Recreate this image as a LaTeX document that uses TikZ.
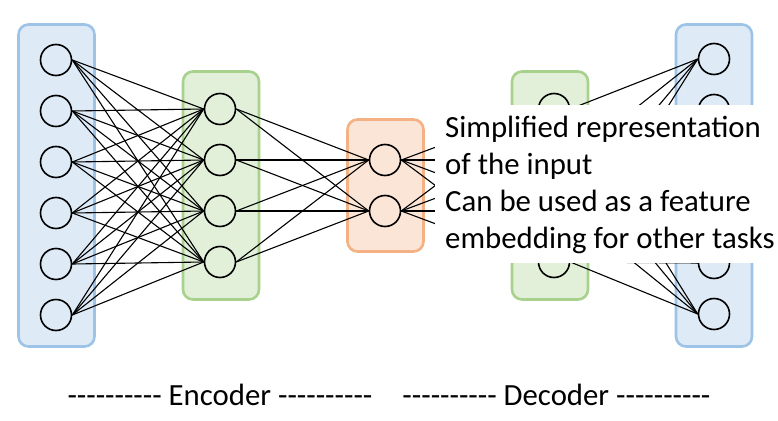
\documentclass[tikz,border=0pt]{standalone}
\usepackage{fontspec}
\setmainfont{Carlito}
\usepackage{tikz}

\definecolor{inline}{HTML}{9DC3E6}
\definecolor{infill}{HTML}{DEEBF7}
\definecolor{hidline}{HTML}{A9D18E}
\definecolor{hidfill}{HTML}{E2F0D9}
\definecolor{codeline}{HTML}{F4B183}
\definecolor{codefill}{HTML}{FBE5D6}
\newcommand{\dashrun}{-{}-{}-{}-{}-{}-{}-{}-{}-{}-}

\begin{document}
\begin{tikzpicture} [x=1pt, y=-1pt, align=left,
    neuron/.style={circle, draw, line width=1.6pt, minimum size=31pt, inner sep=0pt},
    layer/.style={rounded corners=10pt, line width=2.6pt, minimum width=76pt, inner sep=0pt},
    wire/.style={line width=1.1pt},
    txt/.style={font=\fontsize{30.8}{36.7}\selectfont, inner sep=0pt}]
  \useasboundingbox (0,0) rectangle (778,420);

  % layer boxes
  \path (56.5,185.5)  node[layer, draw=inline, fill=infill, minimum height=322pt] (In) {}
        (221,185.5)   node[layer, draw=hidline, fill=hidfill, minimum height=228pt] (Enc) {}
        (385.5,185.5) node[layer, draw=codeline, fill=codefill, minimum height=132pt] (Code) {}
        (550,185.5)   node[layer, draw=hidline, fill=hidfill, minimum height=228pt] (Dec) {}
        (714,185.5)   node[layer, draw=inline, fill=infill, minimum height=322pt] (Out) {};

  % neurons
  \foreach \i in {1,...,6} {
    \path (56,9+51*\i)  node[neuron] (x\i) {}
          (714,8+51*\i) node[neuron] (y\i) {};
  }
  \foreach \i in {1,...,4} {
    \path (220,58+51*\i) node[neuron] (h\i) {}
          (554,58+51*\i) node[neuron] (g\i) {};
  }
  \path (385,109+51) node[neuron] (z1) {}
        +(0,51)      node[neuron] (z2) {};

  % connections
  \foreach \i in {1,...,6}
    \foreach \j in {1,...,4} {
      \draw [wire] (x\i.east) to (h\j.west);
      \draw [wire] (g\j.east) to (y\i.west);
    }
  \foreach \i in {1,...,4}
    \foreach \j in {1,2} {
      \draw [wire] (h\i.east) to (z\j.west);
      \draw [wire] (z\j.east) to (g\i.west);
    }

  % note over the decoder
  \path (435,105) node[fill=white, anchor=north west, minimum width=343pt,
                       minimum height=158pt, inner sep=0pt] (Cover) {}
        (445,248) node[txt, anchor=base west] (Note)
          {Simplified representation\\of the input\\Can be used as a feature\\embedding for other tasks};

  % captions
  \path (220,405)   node[txt, anchor=base] (EncLabel) {\dashrun{} Encoder \dashrun}
        (556.5,405) node[txt, anchor=base] (DecLabel) {\dashrun{} Decoder \dashrun};
\end{tikzpicture}
\end{document}
